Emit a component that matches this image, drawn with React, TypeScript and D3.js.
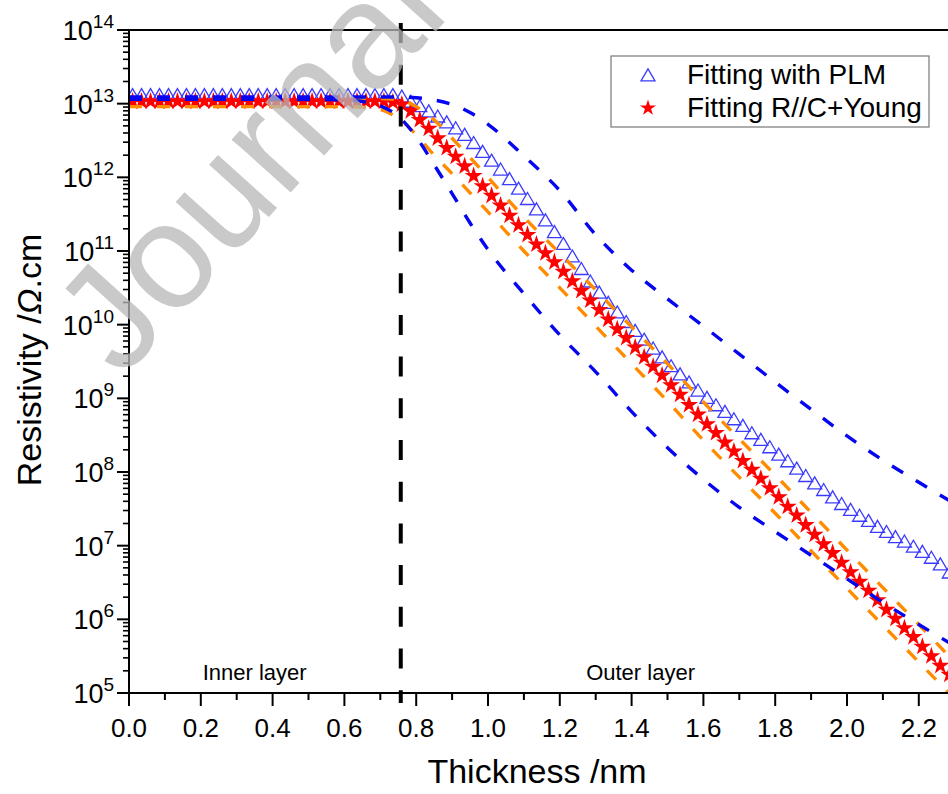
import React from 'react';
import * as d3 from 'd3';

// ---------- data (resistivity values given as log10 of Ω.cm) ----------
const thickness = [
  0.010, 0.035, 0.060, 0.085, 0.110, 0.135, 0.160, 0.185, 0.210, 0.235,
  0.260, 0.285, 0.310, 0.335, 0.360, 0.385, 0.410, 0.435, 0.460, 0.485,
  0.510, 0.535, 0.560, 0.585, 0.610, 0.635, 0.660, 0.685, 0.710, 0.735,
  0.760, 0.785, 0.810, 0.835, 0.860, 0.885, 0.910, 0.935, 0.960, 0.985,
  1.010, 1.035, 1.060, 1.085, 1.110, 1.135, 1.160, 1.185, 1.210, 1.235,
  1.260, 1.285, 1.310, 1.335, 1.360, 1.385, 1.410, 1.435, 1.460, 1.485,
  1.510, 1.535, 1.560, 1.585, 1.610, 1.635, 1.660, 1.685, 1.710, 1.735,
  1.760, 1.785, 1.810, 1.835, 1.860, 1.885, 1.910, 1.935, 1.960, 1.985,
  2.010, 2.035, 2.060, 2.085, 2.110, 2.135, 2.160, 2.185, 2.210, 2.235,
  2.260, 2.285,
];

const plmLog = [
  13.12, 13.12, 13.12, 13.12, 13.12, 13.12, 13.12, 13.12, 13.12, 13.12,
  13.12, 13.12, 13.12, 13.12, 13.12, 13.12, 13.12, 13.12, 13.12, 13.12,
  13.12, 13.12, 13.12, 13.12, 13.12, 13.12, 13.12, 13.12, 13.12, 13.12,
  13.10, 13.03, 12.97, 12.90, 12.83, 12.75, 12.67, 12.58, 12.47, 12.35,
  12.23, 12.11, 11.98, 11.85, 11.71, 11.57, 11.42, 11.26, 11.10, 10.93,
  10.76, 10.59, 10.44, 10.30, 10.17, 10.04, 9.92, 9.80, 9.68, 9.56,
  9.44, 9.33, 9.22, 9.11, 9.01, 8.91, 8.82, 8.72, 8.63, 8.53,
  8.44, 8.34, 8.24, 8.15, 8.05, 7.95, 7.85, 7.76, 7.66, 7.57,
  7.49, 7.41, 7.34, 7.26, 7.19, 7.12, 7.06, 6.99, 6.92, 6.84,
  6.75, 6.64,
];

const rcyLog = [
  13.03, 13.03, 13.03, 13.03, 13.03, 13.03, 13.03, 13.03, 13.03, 13.03,
  13.03, 13.03, 13.03, 13.03, 13.03, 13.03, 13.03, 13.03, 13.03, 13.03,
  13.03, 13.03, 13.03, 13.03, 13.03, 13.03, 13.03, 13.03, 13.03, 13.02,
  12.99, 12.90, 12.78, 12.66, 12.53, 12.40, 12.28, 12.15, 12.02, 11.88,
  11.75, 11.62, 11.48, 11.35, 11.22, 11.09, 10.97, 10.85, 10.72, 10.59,
  10.46, 10.33, 10.20, 10.07, 9.94, 9.82, 9.69, 9.56, 9.43, 9.31,
  9.18, 9.05, 8.91, 8.78, 8.65, 8.53, 8.40, 8.28, 8.15, 8.03,
  7.91, 7.78, 7.66, 7.53, 7.41, 7.28, 7.15, 7.02, 6.90, 6.77,
  6.64, 6.51, 6.39, 6.26, 6.13, 6.01, 5.88, 5.76, 5.63, 5.50,
  5.37, 5.25,
];

const bandX = [0, 0.2, 0.4, 0.6, 0.65, 0.7, 0.75, 0.8, 0.85, 0.9, 0.95, 1.0, 1.1, 1.2, 1.3, 1.4, 1.5, 1.6, 1.7, 1.8, 1.9, 2.0, 2.1, 2.2, 2.3, 2.4];
const plmUpperLog = [13.09, 13.09, 13.09, 13.09, 13.09, 13.09, 13.09, 13.08, 13.05, 12.99, 12.88, 12.72, 12.29, 11.82, 11.22, 10.74, 10.35, 9.98, 9.60, 9.22, 8.85, 8.49, 8.16, 7.86, 7.57, 7.30];
const plmLowerLog = [13.06, 13.06, 13.06, 13.05, 13.03, 12.97, 12.83, 12.55, 12.17, 11.78, 11.38, 11.02, 10.42, 9.86, 9.36, 8.82, 8.33, 7.90, 7.52, 7.19, 6.87, 6.55, 6.23, 5.93, 5.64, 5.37];
const rcyUpperLog = [13.07, 13.07, 13.07, 13.07, 13.07, 13.07, 13.06, 12.96, 12.78, 12.53, 12.27, 12.0, 11.46, 10.97, 10.47, 9.97, 9.47, 8.95, 8.45, 7.96, 7.45, 6.94, 6.43, 5.93, 5.42, 4.92];
const rcyLowerLog = [12.96, 12.96, 12.96, 12.96, 12.95, 12.92, 12.80, 12.58, 12.30, 12.05, 11.79, 11.53, 11.00, 10.50, 9.98, 9.47, 8.96, 8.43, 7.93, 7.44, 6.93, 6.42, 5.92, 5.42, 4.92, 4.42];

const xMajorTicks = [0, 0.2, 0.4, 0.6, 0.8, 1.0, 1.2, 1.4, 1.6, 1.8, 2.0, 2.2];
const xMinorTicks = [0.1, 0.3, 0.5, 0.7, 0.9, 1.1, 1.3, 1.5, 1.7, 1.9, 2.1, 2.3];
const yExponents = [5, 6, 7, 8, 9, 10, 11, 12, 13, 14];
const yMinorMultipliers = [2, 3, 4, 5, 6, 7, 8, 9];
const boundary = 0.757;

const legendLabels = ['Fitting with PLM', 'Fitting R//C+Young'];
const regionLabels = [
  { text: 'Inner layer', x: 0.35 },
  { text: 'Outer layer', x: 1.425 },
];
const watermark = 'Journal Pre-proof';

// ---------- layout ----------
const W = 948;
const H = 794;
const left = 129;
const top = 30;
const bottom = 693;
const font = '"Liberation Sans", Arial, Helvetica, sans-serif';

const BLUE = '#0505f0';
const TRI = '#3b3bff';
const RED = '#ff0000';
const ORANGE = '#ff8c00';

export default function App() {
  const x = d3.scaleLinear().domain([0, 2.4]).range([left, left + 2.4 * 359]);
  const y = d3.scaleLog().domain([1e5, 1e14]).range([bottom, top]);

  const line = d3
    .line<[number, number]>()
    .x((d) => x(d[0]))
    .y((d) => y(Math.pow(10, d[1])))
    .curve(d3.curveMonotoneX);

  const band = (vals: number[]) => line(bandX.map((t, i) => [t, vals[i]] as [number, number])) || '';

  const triPath = 'M0,-6.2 L7,5.8 L-7,5.8 Z';
  const starPath = d3.symbol(d3.symbolStar, 100)() || '';
  const starLegend = d3.symbol(d3.symbolStar, 80)() || '';

  const n = Math.min(thickness.length, plmLog.length, rcyLog.length);
  const idx = d3.range(n);

  const yMinor: number[] = [];
  yExponents.slice(0, -1).forEach((e) => yMinorMultipliers.forEach((m) => yMinor.push(m * Math.pow(10, e))));

  return (
    <svg width={W} height={H} style={{ position: 'absolute', left: 0, top: 0, background: '#fff' }} fontFamily={font}>
      <rect x={0} y={0} width={W} height={H} fill="#fff" />
      <defs>
        <clipPath id="plot">
          <rect x={left} y={top} width={W} height={bottom - top} />
        </clipPath>
      </defs>

      <g clipPath="url(#plot)">
        {idx.map((i) => (
          <path key={'t' + i} d={triPath} transform={`translate(${x(thickness[i])},${y(Math.pow(10, plmLog[i]))})`} fill="none" stroke={TRI} strokeWidth={1.3} />
        ))}
        {idx.map((i) => (
          <path key={'s' + i} d={starPath} transform={`translate(${x(thickness[i])},${y(Math.pow(10, rcyLog[i]))})`} fill={RED} />
        ))}
        <path d={band(rcyUpperLog)} fill="none" stroke={ORANGE} strokeWidth={3.4} strokeDasharray="13 15" />
        <path d={band(rcyLowerLog)} fill="none" stroke={ORANGE} strokeWidth={3.4} strokeDasharray="13 15" />
        <path d={band(plmUpperLog)} fill="none" stroke={BLUE} strokeWidth={3.4} strokeDasharray="13 15" />
        <path d={band(plmLowerLog)} fill="none" stroke={BLUE} strokeWidth={3.4} strokeDasharray="13 15" />
      </g>

      {/* axes */}
      <line x1={left} x2={left} y1={top} y2={bottom} stroke="#000" strokeWidth={2} />
      <line x1={left - 12} x2={W} y1={top} y2={top} stroke="#000" strokeWidth={2} />
      <line x1={left - 12} x2={W} y1={bottom} y2={bottom} stroke="#000" strokeWidth={2} />

      {xMajorTicks.map((t) => (
        <g key={'xm' + t}>
          <line x1={x(t)} x2={x(t)} y1={bottom} y2={bottom + 13} stroke="#000" strokeWidth={2} />
          <text x={x(t)} y={737} fontSize={26} textAnchor="middle" fill="#000">
            {t.toFixed(1)}
          </text>
        </g>
      ))}
      {xMinorTicks.map((t) => (
        <line key={'xn' + t} x1={x(t)} x2={x(t)} y1={bottom} y2={bottom + 7} stroke="#000" strokeWidth={2} />
      ))}

      {yExponents.map((e) => (
        <g key={'ym' + e}>
          <line x1={left - 12} x2={left} y1={y(Math.pow(10, e))} y2={y(Math.pow(10, e))} stroke="#000" strokeWidth={2} />
          <text x={114} y={y(Math.pow(10, e)) + 10} fontSize={27} textAnchor="end" fill="#000">
            10
            <tspan fontSize={19} dy={-12}>
              {e}
            </tspan>
          </text>
        </g>
      ))}
      {yMinor.map((v, i) => (
        <line key={'yn' + i} x1={left - 6} x2={left} y1={y(v)} y2={y(v)} stroke="#000" strokeWidth={1.6} />
      ))}

      {/* boundary */}
      <line x1={x(boundary)} x2={x(boundary)} y1={23} y2={703} stroke="#000" strokeWidth={4} strokeDasharray="20 21.7" />

      {regionLabels.map((r) => (
        <text key={r.text} x={x(r.x)} y={680} fontSize={22} textAnchor="middle" fill="#000">
          {r.text}
        </text>
      ))}

      {/* axis titles */}
      <text x={537} y={783} fontSize={34} textAnchor="middle" fill="#000">
        Thickness /nm
      </text>
      <text transform="translate(41,360) rotate(-90)" fontSize={34} textAnchor="middle" fill="#000">
        Resistivity /<tspan fontStyle="italic">Ω</tspan>.cm
      </text>

      {/* legend */}
      <rect x={611} y={56} width={318} height={71} fill="#fff" stroke="#777" strokeWidth={1.2} />
      <path d={triPath} transform="translate(648,75)" fill="none" stroke={TRI} strokeWidth={1.3} />
      <path d={starLegend} transform="translate(648,108)" fill={RED} />
      <text x={687} y={84} fontSize={28} fill="#000">
        {legendLabels[0]}
      </text>
      <text x={687} y={117} fontSize={28} fill="#000">
        {legendLabels[1]}
      </text>

      {/* watermark */}
      <text transform="translate(122,380) rotate(-48)" fontSize={150} fill="#b8b8b8" opacity={0.75}>
        {watermark}
      </text>
    </svg>
  );
}
